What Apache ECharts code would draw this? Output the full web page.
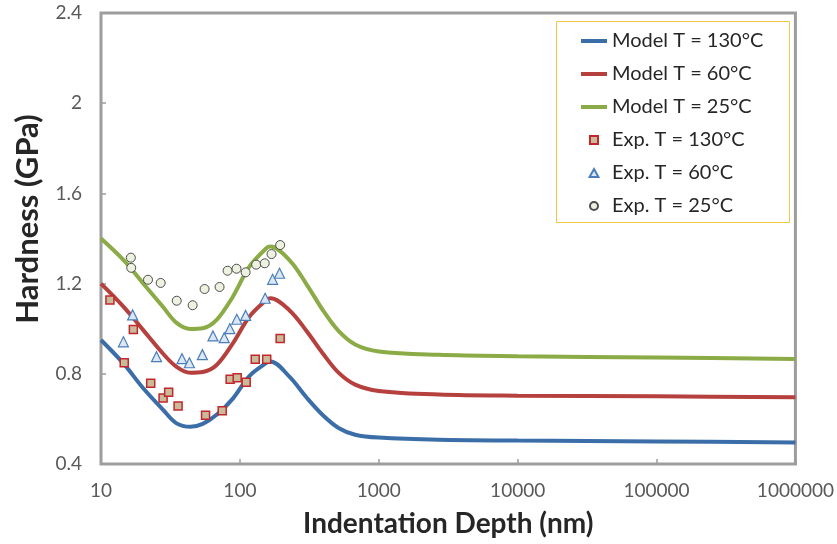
<!DOCTYPE html>
<html>
<head>
<meta charset="utf-8">
<script src="https://cdn.jsdelivr.net/npm/echarts@6/dist/echarts.min.js"></script>
<style>html,body{margin:0;padding:0;background:#fff;}#c{width:837px;height:544px;}</style>
</head>
<body>
<div id="c"></div>
<script>
// Tick labels
const xTicks = [10, 100, 1000, 10000, 100000, 1000000];
const yTicks = [0.4, 0.8, 1.2, 1.6, 2.0, 2.4];

// Model curves (shared x positions, nm)
const modelX = [10, 14.5, 20, 28, 35, 44, 54, 68, 89, 117, 155, 166, 229, 302, 398, 513, 676, 1000, 2700, 10000, 100000, 1000000];
const model130 = [0.95, 0.846, 0.738, 0.64, 0.58, 0.565, 0.578, 0.618, 0.69, 0.79, 0.848, 0.855, 0.785, 0.695, 0.615, 0.56, 0.53, 0.517, 0.507, 0.504, 0.500, 0.495];
const model60 = [1.2, 1.098, 0.996, 0.889, 0.831, 0.805, 0.808, 0.839, 0.935, 1.053, 1.127, 1.135, 1.08, 0.99, 0.888, 0.805, 0.752, 0.724, 0.708, 0.703, 0.700, 0.696];
const model25 = [1.4, 1.305, 1.203, 1.096, 1.026, 0.999, 1.002, 1.039, 1.142, 1.275, 1.357, 1.364, 1.302, 1.197, 1.08, 0.99, 0.93, 0.899, 0.884, 0.878, 0.872, 0.866];

// Experimental data
const exp130X = [11.6, 14.7, 17.1, 22.8, 28.0, 30.7, 35.9, 56.6, 74.6, 85.1, 95.6, 111, 129, 156, 195];
const exp130Y = [1.127, 0.849, 0.997, 0.758, 0.693, 0.718, 0.657, 0.616, 0.636, 0.776, 0.783, 0.762, 0.864, 0.864, 0.957];
const exp60X = [14.5, 16.9, 25.1, 38.3, 43.3, 53.7, 64.0, 77.1, 84.7, 95.0, 110, 152, 172, 193];
const exp60Y = [0.942, 1.061, 0.876, 0.867, 0.849, 0.885, 0.968, 0.960, 1.0, 1.042, 1.059, 1.135, 1.219, 1.246];
const exp25X = [16.4, 16.5, 21.8, 26.9, 35.1, 45.7, 55.7, 71.4, 81.5, 94.6, 110, 131, 151, 169, 195];
const exp25Y = [1.315, 1.270, 1.217, 1.203, 1.124, 1.104, 1.176, 1.185, 1.257, 1.266, 1.250, 1.284, 1.290, 1.331, 1.371];

const names = ['Model T = 130°C', 'Model T = 60°C', 'Model T = 25°C', 'Exp. T = 130°C', 'Exp. T = 60°C', 'Exp. T = 25°C'];
const xTitle = 'Indentation Depth (nm)';
const yTitle = 'Hardness (GPa)';

const zip = (xs, ys) => xs.map((x, i) => [x, ys[i]]);
const FONT = 'Lato';

function lineSeries(name, ys, color) {
  return {
    name, type: 'line', data: zip(modelX, ys), smooth: 0.35, symbol: 'none',
    lineStyle: { color, width: 4 }, itemStyle: { color }, z: 2
  };
}
function scatterSeries(name, xs, ys, symbol, size, fill, stroke, bw) {
  return {
    name, type: 'scatter', data: zip(xs, ys), symbol, symbolSize: size,
    itemStyle: { color: fill, borderColor: stroke, borderWidth: bw, opacity: 1 }, z: 5
  };
}

const lineLegend = n => ({ name: n, itemStyle: { color: 'rgba(0,0,0,0)', borderWidth: 0 }, lineStyle: { width: 4 } });
const legendData = [
  lineLegend(names[0]), lineLegend(names[1]), lineLegend(names[2]),
  { name: names[3], icon: 'path://M0,0L10,0L10,10L0,10Z' },
  { name: names[4], icon: 'path://M5,0L10,9L0,9Z' },
  { name: names[5], icon: 'circle' }
];

const chart = echarts.init(document.getElementById('c'), null, { renderer: 'canvas' });
chart.setOption({
  animation: false,
  backgroundColor: '#ffffff',
  grid: { left: 101, right: 39, top: 13, bottom: 80, show: true, borderColor: '#9d9d9d', borderWidth: 3, backgroundColor: 'transparent' },
  xAxis: {
    type: 'log', logBase: 10, min: xTicks[0], max: xTicks[xTicks.length - 1],
    name: xTitle, nameLocation: 'middle', nameGap: 46,
    nameTextStyle: { fontFamily: FONT, fontWeight: 'bold', fontSize: 28, color: '#262626' },
    axisLine: { show: false },
    axisTick: { show: true, inside: true, length: 5, lineStyle: { color: '#9d9d9d', width: 1.5 } },
    axisLabel: { margin: 17, fontFamily: FONT, fontSize: 19, color: '#595959', formatter: v => String(Math.round(v)) },
    splitLine: { show: false }, minorTick: { show: false }
  },
  yAxis: {
    type: 'value', min: yTicks[0], max: yTicks[yTicks.length - 1], interval: 0.4,
    axisLine: { show: false },
    axisTick: { show: true, inside: true, length: 5, lineStyle: { color: '#9d9d9d', width: 1.5 } },
    axisLabel: { margin: 19, fontFamily: FONT, fontSize: 19, color: '#595959', formatter: v => String(Math.round(v * 10) / 10) },
    splitLine: { show: false }
  },
  legend: {
    orient: 'vertical', left: 579, top: 31, padding: 0,
    itemWidth: 26, itemHeight: 8, itemGap: 13, symbolKeepAspect: true,
    textStyle: { fontFamily: FONT, fontSize: 20, color: '#262626', lineHeight: 20 },
    data: legendData
  },
  graphic: [
    { type: 'rect', shape: { x: 556.5, y: 21.5, width: 233, height: 201 }, style: { fill: 'none', stroke: '#f3c645', lineWidth: 1 }, z: 10 },
    { type: 'text', x: 28, y: 219, rotation: Math.PI / 2,
      style: { text: yTitle, font: 'bold 31px ' + FONT, fill: '#262626', textAlign: 'center', textVerticalAlign: 'middle' } }
  ],
  series: [
    lineSeries(names[0], model130, '#3b6ea8'),
    lineSeries(names[1], model60, '#b5403d'),
    lineSeries(names[2], model25, '#8aab45'),
    scatterSeries(names[3], exp130X, exp130Y, 'rect', 8, '#c7bb98', '#c3262c', 1.5),
    scatterSeries(names[4], exp60X, exp60Y, 'triangle', 10, '#dde7f3', '#4a7ebb', 1.2),
    scatterSeries(names[5], exp25X, exp25Y, 'circle', 9, '#ecf2df', '#4d4d4d', 1)
  ]
});
</script>
</body>
</html>
